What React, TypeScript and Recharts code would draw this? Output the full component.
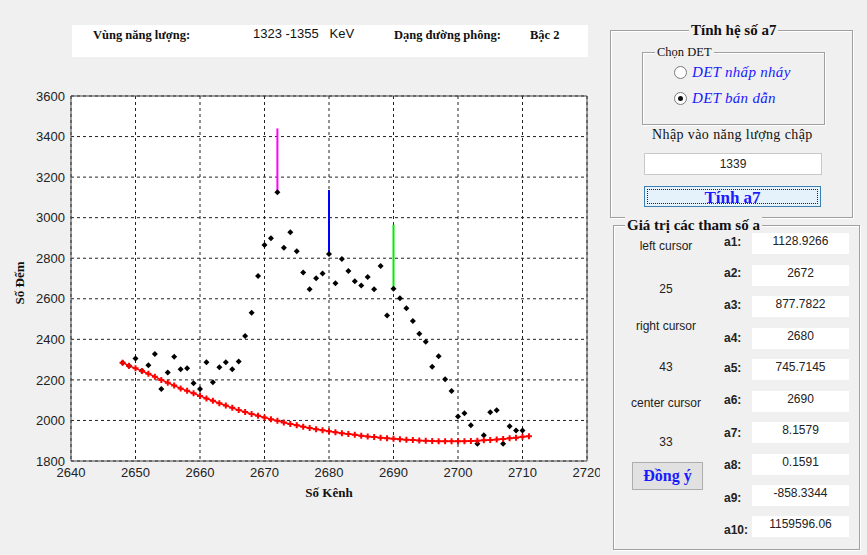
import React from "react";
import {
  CartesianGrid,
  ComposedChart,
  Line,
  ReferenceLine,
  Scatter,
  XAxis,
  YAxis,
} from "recharts";

// số kênh / số đếm đọc từ đồ thị
const countChannels = [
  2648, 2649, 2650, 2651, 2652, 2653, 2654, 2655, 2656, 2657, 2658, 2659, 2660,
  2661, 2662, 2663, 2664, 2665, 2666, 2667, 2668, 2669, 2670, 2671, 2672, 2673,
  2674, 2675, 2676, 2677, 2678, 2679, 2680, 2681, 2682, 2683, 2684, 2685, 2686,
  2687, 2688, 2689, 2690, 2691, 2692, 2693, 2694, 2695, 2696, 2697, 2698, 2699,
  2700, 2701, 2702, 2703, 2704, 2705, 2706, 2707, 2708, 2709, 2710,
];
const counts = [
  2285, 2268, 2306, 2245, 2272, 2328, 2155, 2237, 2314, 2252, 2257, 2183, 2155,
  2287, 2188, 2262, 2287, 2252, 2291, 2416, 2531, 2712, 2865, 2898, 3125, 2852,
  2928, 2835, 2730, 2647, 2701, 2725, 2821, 2676, 2796, 2737, 2686, 2666, 2707,
  2647, 2762, 2517, 2650, 2602, 2553, 2490, 2428, 2388, 2265, 2316, 2203, 2145,
  2020, 2035, 1976, 1885, 1927, 2040, 2050, 1885, 1971, 1951, 1951,
];

// đường phông (bậc 2)
const bgChannels = [...countChannels, 2711];
const background = [
  2285, 2270, 2257, 2244, 2230, 2216, 2200, 2186, 2172, 2158, 2146, 2134, 2121,
  2108, 2097, 2085, 2074, 2062, 2051, 2042, 2032, 2023, 2015, 2006, 1998, 1990,
  1983, 1976, 1969, 1963, 1957, 1952, 1947, 1942, 1937, 1933, 1929, 1925, 1921,
  1918, 1915, 1912, 1910, 1907, 1905, 1903, 1901, 1900, 1899, 1898, 1898, 1898,
  1898, 1898, 1899, 1900, 1902, 1904, 1906, 1909, 1912, 1915, 1919, 1922,
];

// con trỏ trái / giữa / phải
const cursorChannels = [2672, 2680, 2690];
const cursorBottom = [3125, 2821, 2650];
const cursorTop = [3440, 3136, 2965];
const cursorColors = ["#ff00ff", "#0000ff", "#00ee00"];

const xTicks = [2640, 2650, 2660, 2670, 2680, 2690, 2700, 2710, 2720];
const yTicks = [1800, 2000, 2200, 2400, 2600, 2800, 3000, 3200, 3400, 3600];

const paramLabels = ["a1:", "a2:", "a3:", "a4:", "a5:", "a6:", "a7:", "a8:", "a9:", "a10:"];
const paramValues = [
  "1128.9266", "2672", "877.7822", "2680", "745.7145", "2690", "8.1579",
  "0.1591", "-858.3344", "1159596.06",
];

const countRows = countChannels.map((ch, i) => ({ ch, cnt: counts[i] }));
const bgRows = bgChannels.map((ch, i) => ({ ch, bg: background[i] }));

const serif = "'Liberation Serif', 'Times New Roman', serif";
const sans = "'Liberation Sans', Arial, sans-serif";

const Dot = (props: any) => {
  const { cx, cy } = props;
  if (cx == null || cy == null) return <g />;
  return (
    <path
      d={`M${cx - 3},${cy} L${cx},${cy - 3} L${cx + 3},${cy} L${cx},${cy + 3} Z`}
      fill="#000"
    />
  );
};

const Plus = (props: any) => {
  const { cx, cy, index } = props;
  return (
    <path
      key={`p${index}`}
      d={`M${cx - 3},${cy} H${cx + 3} M${cx},${cy - 3} V${cy + 3}`}
      stroke="#ff0000"
      strokeWidth={2}
    />
  );
};

const etched = {
  position: "absolute" as const,
  border: "1px solid #a0a0a0",
  boxShadow: "inset 1px 1px 0 #fff, 1px 1px 0 #fff",
};

function Panel({ left, top, width, height, title, titleLeft, titleStyle }: any) {
  return (
    <>
      <div style={{ ...etched, left, top, width, height }} />
      <div
        style={{
          position: "absolute",
          left: titleLeft,
          top: top - 9,
          background: "#f0f0f0",
          padding: "0 2px",
          lineHeight: "18px",
          whiteSpace: "nowrap",
          ...titleStyle,
        }}
      >
        {title}
      </div>
    </>
  );
}

function Radio({ x, y, checked }: { x: number; y: number; checked: boolean }) {
  return (
    <div
      style={{
        position: "absolute",
        left: x - 6,
        top: y - 6,
        width: 11,
        height: 11,
        borderRadius: "50%",
        border: "1px solid #7a7a7a",
        background: "#fff",
      }}
    >
      {checked && (
        <div
          style={{
            position: "absolute",
            left: 3,
            top: 3,
            width: 5,
            height: 5,
            borderRadius: "50%",
            background: "#111",
          }}
        />
      )}
    </div>
  );
}

function Txt({ left, top, children, style }: any) {
  return (
    <div style={{ position: "absolute", left, top, whiteSpace: "nowrap", ...style }}>
      {children}
    </div>
  );
}

export default function App() {
  const leftCol = [
    { t: "left cursor", y: 246 },
    { t: "25", y: 289 },
    { t: "right cursor", y: 326 },
    { t: "43", y: 367 },
    { t: "center cursor", y: 403 },
    { t: "33", y: 442 },
  ];
  const labelY = [242, 273, 305, 338, 368, 400, 433, 465, 498, 530];
  const boxTop = [233, 265, 296, 328, 359, 391, 422, 454, 485, 516];

  return (
    <div
      style={{
        position: "absolute",
        left: 0,
        top: 0,
        width: 867,
        height: 555,
        background: "#f0f0f0",
        overflow: "hidden",
        color: "#111",
      }}
    >
      {/* thanh thông tin phía trên */}
      <div
        style={{ position: "absolute", left: 72, top: 25, width: 516, height: 32, background: "#fff" }}
      />
      <Txt left={93} top={27} style={{ fontFamily: serif, fontWeight: "bold", fontSize: 12.5, lineHeight: "16px" }}>
        Vùng năng lượng:
      </Txt>
      <Txt left={253} top={26} style={{ fontFamily: sans, fontSize: 13, lineHeight: "16px" }}>
        1323 -1355&nbsp;&nbsp; KeV
      </Txt>
      <Txt left={394} top={27} style={{ fontFamily: serif, fontWeight: "bold", fontSize: 12.5, lineHeight: "16px" }}>
        Dạng đường phông:
      </Txt>
      <Txt left={530} top={27} style={{ fontFamily: serif, fontWeight: "bold", fontSize: 12.5, lineHeight: "16px" }}>
        Bậc 2
      </Txt>

      {/* đồ thị */}
      <div style={{ position: "absolute", left: 0, top: 0 }}>
        <ComposedChart
          width={600}
          height={510}
          margin={{ top: 96, right: 13, bottom: 11, left: 11 }}
        >
          <CartesianGrid
            stroke="#222"
            strokeDasharray="3 3"
            fill="#fff"
            fillOpacity={1}
          />
          <XAxis
            dataKey="ch"
            type="number"
            domain={[2640, 2720]}
            ticks={xTicks}
            allowDataOverflow
            height={38}
            tickLine={false}
            tickSize={3}
            tickMargin={4}
            axisLine={{ stroke: "#444" }}
            tick={{ fontSize: 13, fill: "#222", fontFamily: sans }}
            label={{
              value: "Số Kênh",
              position: "insideBottom",
              offset: 2,
              style: { fontFamily: serif, fontWeight: "bold", fontSize: 13, fill: "#111" },
            }}
          />
          <YAxis
            type="number"
            domain={[1800, 3600]}
            ticks={yTicks}
            allowDataOverflow
            width={60}
            tickLine={false}
            tickSize={4}
            tickMargin={2}
            axisLine={{ stroke: "#444" }}
            tick={{ fontSize: 13, fill: "#222", fontFamily: sans }}
          />
          <ReferenceLine y={3600} stroke="#444" strokeWidth={1} />
          <ReferenceLine x={2720} stroke="#444" strokeWidth={1} />
          {cursorChannels.map((c, i) => (
            <ReferenceLine
              key={c}
              segment={[
                { x: c, y: cursorBottom[i] },
                { x: c, y: cursorTop[i] },
              ]}
              stroke={cursorColors[i]}
              strokeWidth={2}
            />
          ))}
          <Scatter
            data={countRows}
            dataKey="cnt"
            shape={Dot}
            isAnimationActive={false}
          />
          <Line
            data={bgRows}
            dataKey="bg"
            type="linear"
            stroke="#ff0000"
            strokeWidth={1.5}
            dot={Plus}
            activeDot={false}
            isAnimationActive={false}
          />
        </ComposedChart>
      </div>
      <div
        style={{
          position: "absolute",
          left: 20,
          top: 283,
          transform: "translate(-50%, -50%) rotate(-90deg)",
          fontFamily: serif,
          fontWeight: "bold",
          fontSize: 13,
          whiteSpace: "nowrap",
        }}
      >
        Số Đếm
      </div>

      {/* khung Tính hệ số a7 */}
      <Panel
        left={610}
        top={30}
        width={241}
        height={186}
        title="Tính hệ số a7"
        titleLeft={689}
        titleStyle={{ fontFamily: serif, fontWeight: "bold", fontSize: 15 }}
      />
      <Panel
        left={642}
        top={52}
        width={181}
        height={71}
        title="Chọn DET"
        titleLeft={655}
        titleStyle={{ fontFamily: serif, fontSize: 12.5 }}
      />
      <Radio x={680} y={72} checked={false} />
      <Radio x={680} y={98} checked={true} />
      <Txt left={692} top={63} style={{ fontFamily: serif, fontStyle: "italic", fontSize: 15, color: "#1a1aff", lineHeight: "18px", letterSpacing: 0.3 }}>
        DET nhấp nháy
      </Txt>
      <Txt left={692} top={89} style={{ fontFamily: serif, fontStyle: "italic", fontSize: 15, color: "#1a1aff", lineHeight: "18px", letterSpacing: 0.3 }}>
        DET bán dẫn
      </Txt>
      <Txt left={652} top={126} style={{ fontFamily: serif, fontSize: 14, lineHeight: "18px", letterSpacing: 0.4 }}>
        Nhập vào năng lượng chập
      </Txt>
      <div
        style={{
          position: "absolute",
          left: 644,
          top: 153,
          width: 176,
          height: 20,
          background: "#fff",
          border: "1px solid #c8c8c8",
          fontFamily: sans,
          fontSize: 12,
          lineHeight: "20px",
          textAlign: "center",
          color: "#222",
        }}
      >
        1339
      </div>
      <div
        style={{
          position: "absolute",
          left: 644,
          top: 186,
          width: 175,
          height: 19,
          background: "#e5f1fb",
          border: "1px solid #3c7fb1",
        }}
      >
        <div
          style={{
            position: "absolute",
            left: 2,
            top: 2,
            right: 2,
            bottom: 2,
            border: "1px dotted #222",
            fontFamily: serif,
            fontWeight: "bold",
            fontSize: 17,
            lineHeight: "15px",
            textAlign: "center",
            color: "#1a1aff",
          }}
        >
          Tính a7
        </div>
      </div>

      {/* khung Giá trị các tham số a */}
      <Panel
        left={613}
        top={225}
        width={245}
        height={323}
        title="Giá trị các tham số a"
        titleLeft={625}
        titleStyle={{ fontFamily: serif, fontWeight: "bold", fontSize: 15 }}
      />
      {leftCol.map((r) => (
        <div
          key={r.t}
          style={{
            position: "absolute",
            left: 616,
            width: 100,
            top: r.y - 8,
            textAlign: "center",
            fontFamily: sans,
            fontSize: 12,
            lineHeight: "16px",
            color: "#222",
          }}
        >
          {r.t}
        </div>
      ))}
      <div
        style={{
          position: "absolute",
          left: 632,
          top: 462,
          width: 69,
          height: 26,
          background: "#e1e1e1",
          border: "1px solid #adadad",
          fontFamily: serif,
          fontWeight: "bold",
          fontSize: 16,
          lineHeight: "26px",
          textAlign: "center",
          color: "#1a1aff",
        }}
      >
        Đồng ý
      </div>
      {paramLabels.map((l, i) => (
        <Txt
          key={l}
          left={724}
          top={labelY[i] - 8}
          style={{ fontFamily: sans, fontWeight: "bold", fontSize: 12, lineHeight: "16px", color: "#222" }}
        >
          {l}
        </Txt>
      ))}
      {paramValues.map((v, i) => (
        <div
          key={i}
          style={{
            position: "absolute",
            left: 752,
            top: boxTop[i],
            width: 97,
            height: 21,
            background: "#fff",
            fontFamily: sans,
            fontSize: 12,
            lineHeight: "16px",
            textAlign: "center",
            color: "#222",
          }}
        >
          {v}
        </div>
      ))}
    </div>
  );
}
